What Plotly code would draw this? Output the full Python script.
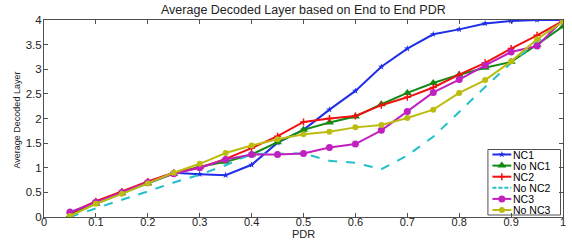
import plotly.graph_objects as go

pdr = [0.05, 0.10, 0.15, 0.20, 0.25, 0.30, 0.35, 0.40, 0.45, 0.50,
       0.55, 0.60, 0.65, 0.70, 0.75, 0.80, 0.85, 0.90, 0.95, 1.00]

nc1 = [0.05, 0.30, 0.50, 0.70, 0.90, 0.87, 0.85, 1.06, 1.51, 1.77,
       2.18, 2.56, 3.05, 3.42, 3.71, 3.81, 3.93, 3.98, 4.00, 4.00]
no_nc1 = [0.03, 0.27, 0.48, 0.68, 0.88, 1.02, 1.12, 1.27, 1.52, 1.77,
          1.92, 2.04, 2.29, 2.52, 2.72, 2.89, 3.03, 3.15, 3.50, 3.87]
nc2 = [0.08, 0.32, 0.52, 0.72, 0.90, 1.00, 1.18, 1.40, 1.64, 1.93,
       2.00, 2.05, 2.27, 2.43, 2.63, 2.89, 3.13, 3.42, 3.69, 3.98]
no_nc2 = [0.00, 0.18, 0.35, 0.52, 0.70, 0.86, 1.05, 1.28, 1.29, 1.29,
          1.14, 1.10, 0.97, 1.25, 1.63, 2.14, 2.64, 3.13, 3.55, 4.00]
nc3 = [0.10, 0.30, 0.50, 0.70, 0.88, 1.00, 1.17, 1.27, 1.27, 1.29,
       1.41, 1.48, 1.76, 2.14, 2.53, 2.79, 3.08, 3.35, 3.47, 4.00]
no_nc3 = [0.02, 0.27, 0.47, 0.68, 0.90, 1.08, 1.30, 1.45, 1.58, 1.68,
          1.73, 1.82, 1.87, 2.01, 2.18, 2.52, 2.78, 3.16, 3.61, 3.97]

names = ["NC1", "No NC1", "NC2", "No NC2", "NC3", "No NC3"]
values = [nc1, no_nc1, nc2, no_nc2, nc3, no_nc3]
colors = ["#1f2fe8", "#138a13", "#f01010", "#22c0c8", "#c020c0", "#bcbc10"]
dashes = ["solid", "solid", "solid", "dash", "solid", "solid"]
symbols = ["star", "triangle-up", "cross-thin", None, "circle", "circle"]
msizes = [5, 8, 5, 0, 7, 6]

x_ticks = [0, 0.1, 0.2, 0.3, 0.4, 0.5, 0.6, 0.7, 0.8, 0.9, 1]
x_labels = ["0", "0.1", "0.2", "0.3", "0.4", "0.5", "0.6", "0.7", "0.8", "0.9", "1"]
y_ticks = [0, 0.5, 1, 1.5, 2, 2.5, 3, 3.5, 4]
y_labels = ["0", "0.5", "1", "1.5", "2", "2.5", "3", "3.5", "4"]

FONT = "Liberation Sans, Arial, sans-serif"
AX = "#505050"

fig = go.Figure()


def mk(col, sym, ms):
    return dict(color=col, size=ms, symbol=sym or "circle",
                line=dict(color=col, width=1.5 if sym == "cross-thin" else 0))


for name, vals, col, dash, sym, ms in zip(names, values, colors, dashes, symbols, msizes):
    mode = "lines" if sym is None else "lines+markers"
    fig.add_trace(go.Scatter(x=pdr, y=vals, name=name, mode=mode,
                             line=dict(color=col, width=2, dash=dash),
                             marker=mk(col, sym, ms), showlegend=False,
                             xaxis="x", yaxis="y"))

# custom compact legend on an overlay axis measured in pixels
L, T, R, B = 490.5, 149.5, 563.5, 215
row_y = [154.5, 165.6, 176.7, 187.8, 198.9, 210.0]
fig.add_shape(type="rect", xref="x2", yref="y2", x0=L, x1=R, y0=T, y1=B,
              line=dict(color=AX, width=1), fillcolor="white", layer="below")
for name, col, dash, sym, ms, yy in zip(names, colors, dashes, symbols, msizes, row_y):
    fig.add_trace(go.Scatter(x=[495, 514], y=[yy, yy], mode="lines",
                             line=dict(color=col, width=2, dash="4px,2px" if dash == "dash" else "solid"),
                             showlegend=False, hoverinfo="skip",
                             xaxis="x2", yaxis="y2"))
    if sym is not None:
        fig.add_trace(go.Scatter(x=[504.5], y=[yy], mode="markers",
                                 marker=mk(col, sym, ms),
                                 showlegend=False, hoverinfo="skip",
                                 xaxis="x2", yaxis="y2"))
    fig.add_annotation(xref="x2", yref="y2", x=514.5, y=yy, text=name,
                       showarrow=False, xanchor="left", yanchor="middle",
                       borderpad=0,
                       font=dict(family=FONT, size=10.5, color="#000"))

fig.update_layout(
    width=572, height=244,
    margin=dict(l=44, r=6, t=20, b=27),
    paper_bgcolor="white", plot_bgcolor="white",
    font=dict(family=FONT, size=12, color="#222"),
    xaxis=dict(range=[0, 1], tickvals=x_ticks, ticktext=x_labels,
               ticks="inside", ticklen=4, tickcolor=AX, showline=True,
               linecolor=AX, linewidth=1, mirror="ticks", showgrid=False,
               zeroline=False, ticklabelstandoff=-5,
               tickfont=dict(size=11, color="#222")),
    yaxis=dict(range=[0, 4], tickvals=y_ticks, ticktext=y_labels,
               ticks="inside", ticklen=4, tickcolor=AX, showline=True,
               linecolor=AX, linewidth=1, mirror="ticks", showgrid=False,
               zeroline=False, ticklabelstandoff=-1,
               tickfont=dict(size=11.5, color="#222")),
    xaxis2=dict(range=[44, 566], overlaying="x", visible=False, fixedrange=True),
    yaxis2=dict(range=[217, 20], overlaying="y", visible=False, fixedrange=True),
    showlegend=False,
    annotations=list(fig.layout.annotations) + [
        dict(text="Average Decoded Layer based on End to End PDR", xref="paper", yref="paper",
             x=0.5, y=1.0, yshift=10, xanchor="center", yanchor="middle", showarrow=False,
             font=dict(family=FONT, size=12.5, color="#222")),
        dict(text="PDR", xref="paper", yref="paper", x=0.5, y=0, yshift=-16.5,
             xanchor="center", yanchor="middle", showarrow=False, borderpad=0,
             font=dict(family=FONT, size=11, color="#222")),
        dict(text="Average Decoded Layer", xref="paper", yref="paper", x=0, xshift=-28,
             y=0.5, yshift=-2, xanchor="center", yanchor="middle", showarrow=False, textangle=-90,
             font=dict(family="Liberation Sans Narrow, Liberation Sans, Arial, sans-serif",
                       size=9, color="#222")),
    ],
)

fig.write_html("out.html", config={"displayModeBar": False},
               post_script="document.body.style.margin='0';")
